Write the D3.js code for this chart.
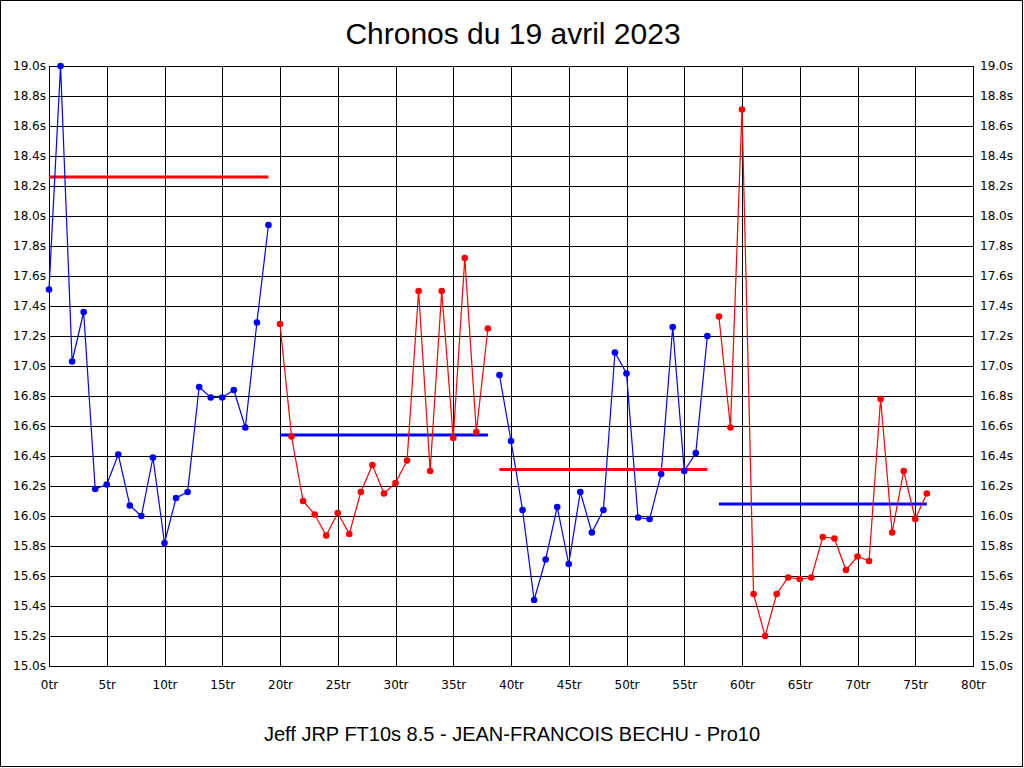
<!DOCTYPE html>
<html>
<head>
<meta charset="utf-8">
<script src="https://cdn.jsdelivr.net/npm/d3@7"></script>
<style>
  html, body { margin: 0; padding: 0; background: #fff; }
  svg { display: block; }
</style>
</head>
<body>
<svg id="chart" width="1024" height="768"></svg>
<script>
// ---- Data ----
const titleText = "Chronos du 19 avril 2023";
const footerText = "Jeff JRP FT10s 8.5 - JEAN-FRANCOIS BECHU - Pro10";

// lap times (s), lap 0 .. 76
const lapTimes = [
  17.51, 19.00, 17.03, 17.36, 16.18, 16.21, 16.41, 16.07, 16.00, 16.39,
  15.82, 16.12, 16.16, 16.86, 16.79, 16.79, 16.84, 16.59, 17.29, 17.94,
  17.28, 16.53, 16.10, 16.01, 15.87, 16.02, 15.88, 16.16, 16.34, 16.15,
  16.22, 16.37, 17.50, 16.30, 17.50, 16.52, 17.72, 16.56, 17.25,
  16.94, 16.50, 16.04, 15.44, 15.71, 16.06, 15.68, 16.16, 15.89, 16.04,
  17.09, 16.95, 15.99, 15.98, 16.28, 17.26, 16.30, 16.42, 17.20,
  17.33, 16.59, 18.71, 15.48, 15.20, 15.48, 15.59, 15.58, 15.59, 15.86,
  15.85, 15.64, 15.73, 15.70, 16.78, 15.89, 16.30, 15.98, 16.15
];

// stints (first and last lap) and their average reference lines
const stintStart = [0, 20, 39, 58];
const stintEnd   = [19, 38, 57, 76];
const stintAvg   = [18.26, 16.54, 16.31, 16.08];

// tick values
const xTicks = [0, 5, 10, 15, 20, 25, 30, 35, 40, 45, 50, 55, 60, 65, 70, 75, 80];
const yTicks = [15.0, 15.2, 15.4, 15.6, 15.8, 16.0, 16.2, 16.4, 16.6, 16.8, 17.0,
                17.2, 17.4, 17.6, 17.8, 18.0, 18.2, 18.4, 18.6, 18.8, 19.0];

// ---- Styles ----
const stintColor = ["#0000ff", "#ff0000", "#0000ff", "#ff0000"];
const avgColor   = ["#ff0000", "#0000ff", "#ff0000", "#0000ff"];
const tickFont = "'DejaVu Sans', Verdana, sans-serif";
const textFont = "'Liberation Sans', Arial, sans-serif";

// ---- Layout ----
const L = 49, R = 973, T = 66, B = 666;
const svg = d3.select("#chart");

svg.append("rect").attr("x", 0.5).attr("y", 0.5).attr("width", 1022).attr("height", 766)
  .attr("fill", "#fff").attr("stroke", "#000").attr("stroke-width", 1);

const x = d3.scaleLinear().domain([0, 80]).range([L, R]);
const y = d3.scaleLinear().domain([15, 19]).range([B, T]);

// grid
const grid = svg.append("g").attr("shape-rendering", "crispEdges");
grid.selectAll("line.v").data(xTicks).join("line")
  .attr("x1", d => Math.round(x(d)) + 0.5).attr("x2", d => Math.round(x(d)) + 0.5)
  .attr("y1", T).attr("y2", B).attr("stroke", "#000").attr("stroke-width", 1);
grid.selectAll("line.h").data(yTicks).join("line")
  .attr("x1", L).attr("x2", R)
  .attr("y1", d => Math.round(y(d)) + 0.5).attr("y2", d => Math.round(y(d)) + 0.5)
  .attr("stroke", "#000").attr("stroke-width", 1);
grid.append("rect").attr("x", L + 0.5).attr("y", T + 0.5)
  .attr("width", R - L).attr("height", B - T)
  .attr("fill", "none").attr("stroke", "#000");

// axes (labels only)
function styleAxis(g) {
  g.select(".domain").remove();
  g.selectAll(".tick line").remove();
  g.selectAll("text").attr("fill", "#000")
    .style("font-family", tickFont).style("font-size", "12px");
}
svg.append("g").attr("transform", `translate(${L},0)`)
  .call(d3.axisLeft(y).tickValues(yTicks).tickSize(0).tickPadding(3)
    .tickFormat(d => d.toFixed(1) + "s"))
  .call(styleAxis);
svg.append("g").attr("transform", `translate(${R},0)`)
  .call(d3.axisRight(y).tickValues(yTicks).tickSize(0).tickPadding(7)
    .tickFormat(d => d.toFixed(1) + "s"))
  .call(styleAxis);
svg.append("g").attr("transform", `translate(0,${B})`)
  .call(d3.axisBottom(x).tickValues(xTicks).tickSize(0).tickPadding(14)
    .tickFormat(d => d + "tr"))
  .call(styleAxis);

// average lines
stintAvg.forEach((v, i) => {
  svg.append("line")
    .attr("x1", x(stintStart[i])).attr("x2", x(stintEnd[i]))
    .attr("y1", y(v)).attr("y2", y(v))
    .attr("stroke", avgColor[i]).attr("stroke-width", 3);
});

// stint lines and points
const line = d3.line().x(d => x(d.lap)).y(d => y(d.t));
stintStart.forEach((s, i) => {
  const pts = d3.range(s, stintEnd[i] + 1).map(lap => ({ lap, t: lapTimes[lap] }));
  svg.append("path").datum(pts).attr("d", line)
    .attr("fill", "none").attr("stroke", stintColor[i]).attr("stroke-width", 1.2);
  svg.append("g").selectAll("circle").data(pts).join("circle")
    .attr("cx", d => x(d.lap)).attr("cy", d => y(d.t)).attr("r", 3.3)
    .attr("fill", stintColor[i]);
});

// title and footer
svg.append("text").attr("x", 513).attr("y", 44).attr("text-anchor", "middle")
  .style("font-family", textFont).style("font-size", "30px").attr("fill", "#000")
  .text(titleText);
svg.append("text").attr("x", 512).attr("y", 741).attr("text-anchor", "middle")
  .style("font-family", textFont).style("font-size", "20px").attr("fill", "#000")
  .text(footerText);
</script>
</body>
</html>
